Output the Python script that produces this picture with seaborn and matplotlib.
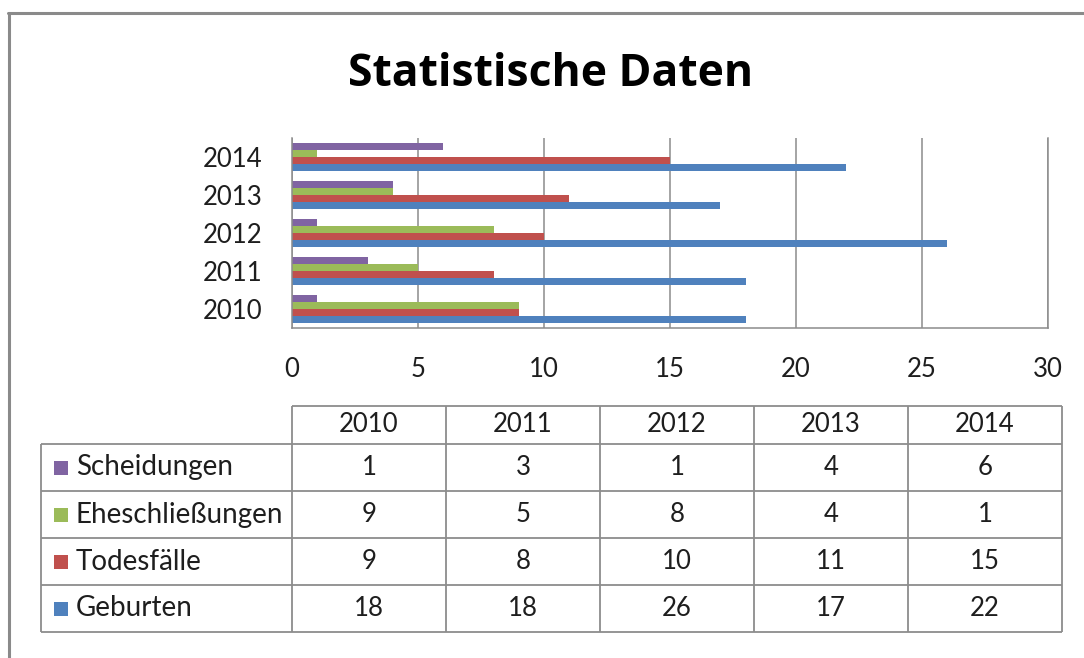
import matplotlib
matplotlib.use("Agg")
import matplotlib.pyplot as plt
import seaborn as sns
import pandas as pd
from matplotlib.lines import Line2D

# ---------------- data ----------------
years = ["2010", "2011", "2012", "2013", "2014"]
series = ["Scheidungen", "Eheschließungen", "Todesfälle", "Geburten"]
scheidungen = [1, 3, 1, 4, 6]
eheschliessungen = [9, 5, 8, 4, 1]
todesfaelle = [9, 8, 10, 11, 15]
geburten = [18, 18, 26, 17, 22]
colors = ["#8064A2", "#9BBB59", "#C0504D", "#4F81BD"]
title = "Statistische Daten"
xticks = [0, 5, 10, 15, 20, 25, 30]

values = [scheidungen, eheschliessungen, todesfaelle, geburten]
rows = []
for s, vals in zip(series, values):
    for y, v in zip(years, vals):
        rows.append({"Jahr": y, "Serie": s, "Wert": v})
df = pd.DataFrame(rows)

# ---------------- style ----------------
sns.set_theme(style="white")
plt.rcParams["font.family"] = ["Lato", "DejaVu Sans"]
TXT = "#1e1e1e"
GRID = "#8c8c8c"

W, H = 1084, 658
fig = plt.figure(figsize=(W / 100, H / 100), dpi=100)
fig.patch.set_facecolor("white")

def fx(px):
    return px / W

def fy(py):
    return 1 - py / H

# ---------------- bar chart ----------------
ax = fig.add_axes([fx(292), fy(328), fx(1048) - fx(292), fy(138) - fy(328)])
sns.barplot(data=df, x="Wert", y="Jahr", hue="Serie",
            order=years[::-1], hue_order=series, palette=colors,
            orient="h", width=0.72, saturation=1, linewidth=0,
            legend=False, ax=ax, errorbar=None)
ax.set_xlim(0, 30)
ax.set_xticks(xticks)
ax.set_xticklabels([str(t) for t in xticks])
ax.set_xlabel("")
ax.set_ylabel("")
ax.xaxis.grid(True, color=GRID, linewidth=1.1)
ax.yaxis.grid(False)
ax.set_axisbelow(True)
ax.spines["top"].set_visible(False)
for side in ["left", "bottom", "right"]:
    ax.spines[side].set_visible(True)
    ax.spines[side].set_color(GRID)
    ax.spines[side].set_linewidth(1.1)
ax.tick_params(axis="x", length=0, pad=21, labelsize=18.5, labelcolor=TXT)
ax.tick_params(axis="y", length=0, pad=21, labelsize=18.5, labelcolor=TXT)

# ---------------- data table ----------------
tw, th = 1063 - 41, 632 - 406
tab = fig.add_axes([fx(41), fy(632), fx(1063) - fx(41), fy(406) - fy(632)])
tab.set_xlim(0, tw)
tab.set_ylim(th, 0)
tab.axis("off")

label_w = 251
col_w = 154
header_h = 38
row_h = (th - header_h) / len(series)

col_edges = [label_w + col_w * i for i in range(len(years) + 1)]
row_edges = [header_h + row_h * i for i in range(len(series) + 1)]

lw = 1.3
tab.hlines(0, label_w, col_edges[-1], color=GRID, lw=lw, clip_on=False)
tab.vlines(col_edges, 0, th, color=GRID, lw=lw, clip_on=False)
tab.vlines(0, header_h, th, color=GRID, lw=lw, clip_on=False)
tab.hlines(row_edges, 0, col_edges[-1], color=GRID, lw=lw, clip_on=False)

for i, y in enumerate(years):
    cx = label_w + col_w * (i + 0.5)
    tab.text(cx, header_h / 2, y, ha="center", va="center",
             fontsize=18.5, color=TXT)

for r, (s, vals, c) in enumerate(zip(series, values, colors)):
    cy = header_h + row_h * (r + 0.5)
    tab.scatter([19.8], [cy], marker="s", s=115, color=c, linewidths=0,
                clip_on=False)
    tab.text(35, cy, s, ha="left", va="center", fontsize=20, color=TXT)
    for i, v in enumerate(vals):
        cx = label_w + col_w * (i + 0.5)
        tab.text(cx, cy, str(v), ha="center", va="center",
                 fontsize=18.5, color=TXT)

# ---------------- title & frame ----------------
fig.text(fx(551), fy(86), title, ha="center", va="baseline",
         fontsize=32, fontweight="bold", color="black",
         family=["Open Sans", "DejaVu Sans"])

fig.add_artist(Line2D([fx(8), 1], [fy(12.5), fy(12.5)], color="#8a8a8a", lw=2.2))
fig.add_artist(Line2D([fx(8.5), fx(8.5)], [0, fy(12.5)], color="#8a8a8a", lw=2.2))

fig.savefig("out.png", dpi=100, facecolor="white")
